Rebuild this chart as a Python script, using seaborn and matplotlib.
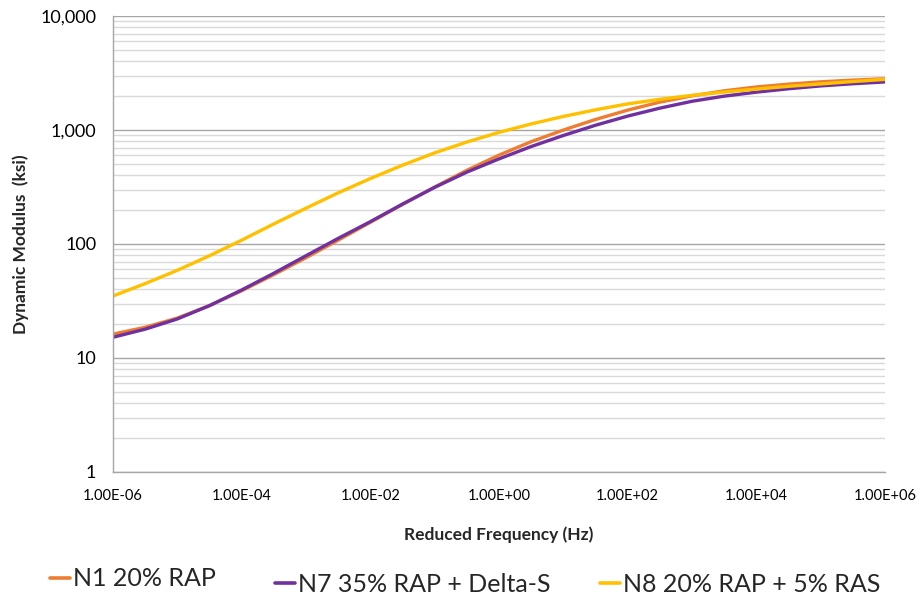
import numpy as np
import pandas as pd
import matplotlib
matplotlib.use("Agg")
import matplotlib.pyplot as plt
import seaborn as sns
from matplotlib.ticker import LogLocator, FixedLocator, NullFormatter

# ---- data (half-decade steps) ----
log_freq = [-6, -5.5, -5, -4.5, -4, -3.5, -3, -2.5, -2, -1.5, -1, -0.5, 0,
            0.5, 1, 1.5, 2, 2.5, 3, 3.5, 4, 4.5, 5, 5.5, 6]
n1 = [16.2, 18.6, 22.4, 28.8, 38.9, 53.9, 75.8, 108, 155, 222, 316, 443, 602,
      790, 999, 1237, 1494, 1756, 1993, 2206, 2385, 2526, 2646, 2739, 2815]
n7 = [15.2, 17.9, 22.0, 28.8, 39.5, 55.4, 78.9, 112, 157, 224, 314, 427, 558,
      716, 895, 1101, 1324, 1555, 1786, 1981, 2147, 2300, 2436, 2545, 2641]
n8 = [35, 44.9, 58.8, 78.9, 108, 150, 206, 281, 375, 491, 630, 784, 953,
      1130, 1315, 1503, 1695, 1858, 2014, 2153, 2286, 2416, 2535, 2661, 2780]
series_names = ["N1 20% RAP", "N7 35% RAP + Delta-S", "N8 20% RAP + 5% RAS"]
colors = ["#ED7D31", "#7030A0", "#FFC000"]
x_ticks = [1e-6, 1e-4, 1e-2, 1e0, 1e2, 1e4, 1e6]
x_tick_labels = ["1.00E-06", "1.00E-04", "1.00E-02", "1.00E+00", "1.00E+02", "1.00E+04", "1.00E+06"]
y_ticks = [1, 10, 100, 1000, 10000]
y_tick_labels = ["1", "10", "100", "1,000", "10,000"]

freq = [10.0 ** v for v in log_freq]
df = pd.concat([
    pd.DataFrame({"freq": freq, "E": vals, "mix": name})
    for name, vals in zip(series_names, [n1, n7, n8])
])

sns.set_theme(style="white")
plt.rcParams["font.family"] = ["Lato", "DejaVu Sans"]

fig = plt.figure(figsize=(9.23, 5.99), dpi=100)
ax = fig.add_axes([113/923, 1-472/599, (885-113)/923, (472-16)/599])

sns.lineplot(data=df, x="freq", y="E", hue="mix", palette=colors,
             hue_order=series_names, linewidth=2.4, ax=ax, legend=False,
             sort=False)

ax.set_xscale("log")
ax.set_yscale("log")
ax.set_xlim(1e-6, 1e6)
ax.set_ylim(1, 10000)

ax.yaxis.set_major_locator(FixedLocator(y_ticks))
ax.yaxis.set_minor_locator(LogLocator(base=10, subs=np.arange(2, 10), numticks=20))
ax.yaxis.set_minor_formatter(NullFormatter())
ax.set_yticklabels(y_tick_labels)
ax.xaxis.set_major_locator(FixedLocator(x_ticks))
ax.xaxis.set_minor_locator(FixedLocator([]))
ax.set_xticklabels(x_tick_labels)

ax.grid(False)
ax.yaxis.grid(True, which="major", color="#a6a6a6", linewidth=1.0)
ax.yaxis.grid(True, which="minor", color="#d9d9d9", linewidth=1.0)
ax.set_axisbelow(True)

for s in ["top", "right"]:
    ax.spines[s].set_visible(False)
for s in ["left", "bottom"]:
    ax.spines[s].set_color("#a6a6a6")
    ax.spines[s].set_linewidth(1.0)

ax.tick_params(axis="both", which="major", direction="out", length=6,
               color="#a6a6a6", width=1.0)
ax.tick_params(axis="y", which="minor", length=0)
ax.tick_params(axis="y", labelsize=13, pad=6, labelcolor="black")
ax.tick_params(axis="x", labelsize=10.5, pad=6, labelcolor="black")

ax.set_xlabel("Reduced Frequency (Hz)", fontsize=12.5, fontweight="bold", labelpad=17)
ax.set_ylabel("Dynamic Modulus  (ksi)", fontsize=12.5, fontweight="bold", labelpad=8)

# legend entries placed as in the reference
leg_pos = [(50/923, 1-579/599), (275/923, 1-584/599), (600/923, 1-584/599)]
for name, c, (lx, ly) in zip(series_names, colors, leg_pos):
    h = plt.Line2D([0], [0], color=c, linewidth=2.6)
    fig.legend([h], [name], loc="center left", bbox_to_anchor=(lx, ly),
               frameon=False, fontsize=18, handlelength=0.8, handletextpad=0.12,
               borderaxespad=0, borderpad=0)

fig.savefig("out.png", dpi=100)
